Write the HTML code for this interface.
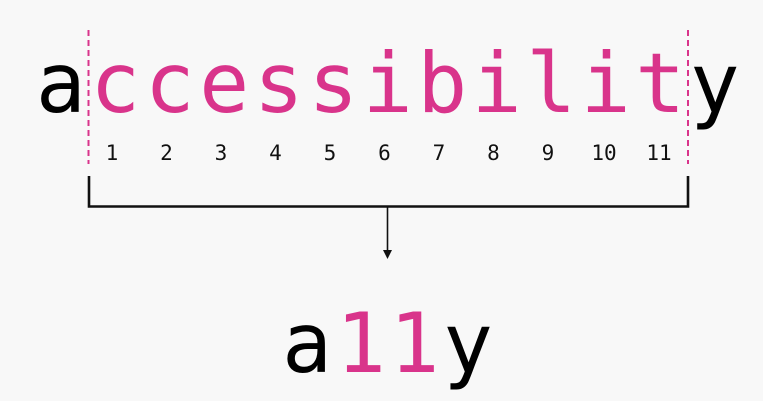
<!DOCTYPE html>
<html><head><meta charset="utf-8"><style>
html,body{margin:0;padding:0;background:#f8f8f8;}
svg{display:block}
text{font-family:"DejaVu Sans Mono","Liberation Mono",monospace;}
</style></head><body>
<svg width="763" height="401" viewBox="0 0 763 401">
<rect width="763" height="401" fill="#f8f8f8"/>
<g font-size="83" text-anchor="middle">
<text x="60.8" y="112" fill="#000">a</text>
<text x="115.3" y="112" fill="#d9348b">c</text>
<text x="169.8" y="112" fill="#d9348b">c</text>
<text x="224.3" y="112" fill="#d9348b">e</text>
<text x="278.8" y="112" fill="#d9348b">s</text>
<text x="333.3" y="112" fill="#d9348b">s</text>
<text x="387.8" y="112" fill="#d9348b">i</text>
<text x="442.3" y="112" fill="#d9348b">b</text>
<text x="496.8" y="112" fill="#d9348b">i</text>
<text x="551.3" y="112" fill="#d9348b">l</text>
<text x="605.8" y="112" fill="#d9348b">i</text>
<text x="660.3" y="112" fill="#d9348b">t</text>
<text x="714.8" y="112" fill="#000">y</text>
</g>
<g font-size="21" text-anchor="middle" fill="#111">
<text x="112" y="160">1</text>
<text x="166.5" y="160">2</text>
<text x="221" y="160">3</text>
<text x="275.5" y="160">4</text>
<text x="330" y="160">5</text>
<text x="384.5" y="160">6</text>
<text x="439" y="160">7</text>
<text x="493.5" y="160">8</text>
<text x="548" y="160">9</text>
<text x="604" y="160">10</text>
<text x="659" y="160">11</text>
</g>
<g stroke="#d9348b" stroke-width="2" stroke-dasharray="6,4">
<line x1="88.5" y1="30" x2="88.5" y2="164"/>
<line x1="688" y1="30" x2="688" y2="164"/>
</g>
<path d="M89 176 V206.5 H688 V176" fill="none" stroke="#111" stroke-width="2.6"/>
<line x1="387.5" y1="207" x2="387.5" y2="252" stroke="#111" stroke-width="1.6"/>
<path d="M383 250 L387.5 259 L392 250 Z" fill="#111"/>
<g font-size="83" text-anchor="middle">
<text x="307" y="372" fill="#000">a</text>
<text x="361" y="372" fill="#d9348b">1</text>
<text x="414.5" y="372" fill="#d9348b">1</text>
<text x="468" y="372" fill="#000">y</text>
</g>
</svg>
</body></html>
